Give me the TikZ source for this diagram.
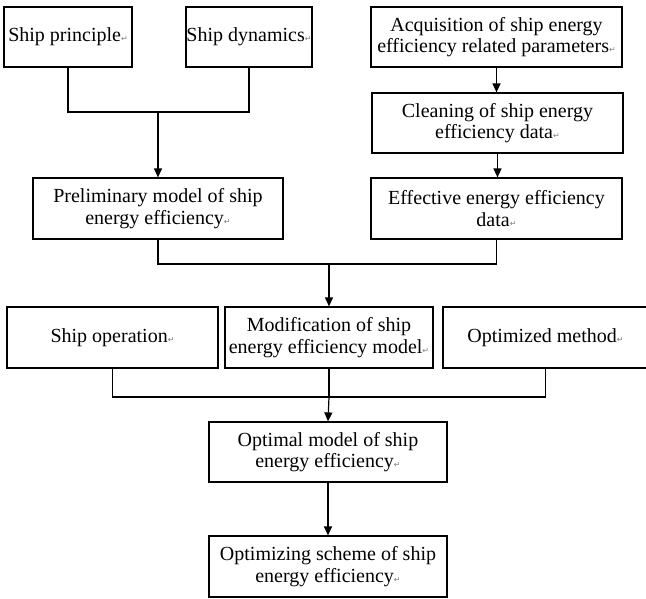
\documentclass[tikz,border=0pt]{standalone}
\usepackage{fontspec}
\setmainfont{Liberation Serif}
\newfontfamily\symfont{DejaVu Sans}
\usetikzlibrary{arrows.meta}
\newcommand\retmark{{\symfont\fontsize{8}{8}\selectfont\color{gray}↵}}
\begin{document}
\begin{tikzpicture}[x=1pt,y=-1pt,
  box/.style={draw=black,line width=1.2pt,fill=white,inner sep=0pt,align=center,
    font=\fontsize{20}{21.5}\selectfont},
  link/.style={draw=black,line width=1.2pt},
  arr/.style={link,-{Triangle[length=9pt,width=8pt]}}]
\useasboundingbox (0,0) rectangle (646,598);
\node[box,minimum width=128,minimum height=60] (sp) at (68,37) {Ship principle\retmark};
\node[box,minimum width=126,minimum height=60] (sd) at (249,37) {Ship dynamics\retmark};
\node[box,minimum width=251,minimum height=60] (acq) at (496.5,37) {Acquisition of ship energy\\efficiency related parameters\retmark};
\node[box,minimum width=251,minimum height=60] (cln) at (497.5,123) {Cleaning of ship energy\\efficiency data\retmark};
\node[box,minimum width=251,minimum height=61] (eff) at (496.5,208.5) {Effective energy efficiency\\data\retmark};
\node[box,minimum width=250,minimum height=61] (pre) at (158,208.5) {Preliminary model of ship\\energy efficiency\retmark};
\node[box,minimum width=211,minimum height=61] (op) at (112.5,337.5) {Ship operation\retmark};
\node[box,minimum width=208,minimum height=61] (mod) at (329,337.5) {Modification of ship\\energy efficiency model\retmark};
\node[box,minimum width=205,minimum height=61] (opt) at (545.5,337.5) {Optimized method\retmark};
\node[box,minimum width=238,minimum height=60] (omod) at (328,452) {Optimal model of ship\\energy efficiency\retmark};
\node[box,minimum width=238,minimum height=61] (osch) at (328,566.5) {Optimizing scheme of ship\\energy efficiency\retmark};
\coordinate (j1) at (158,112);
\coordinate (j2) at (329,264);
\coordinate (j3) at (329,397);
\draw[link] (sp.south) |- (j1) -| (sd.south);
\draw[arr] (j1) -- (pre.north);
\draw[arr] (acq.south) -- (acq.south |- cln.north);
\draw[arr] (cln.south) -- (cln.south |- eff.north);
\draw[link] (pre.south) |- (j2) -| (eff.south);
\draw[arr] (j2) -- (mod.north);
\draw[link] (op.south) |- (j3) -| (opt.south);
\draw[link] (mod.south) -- (j3);
\draw[arr] (j3) -- (omod.north);
\draw[arr] (omod.south) -- (osch.north);
\end{tikzpicture}
\end{document}
